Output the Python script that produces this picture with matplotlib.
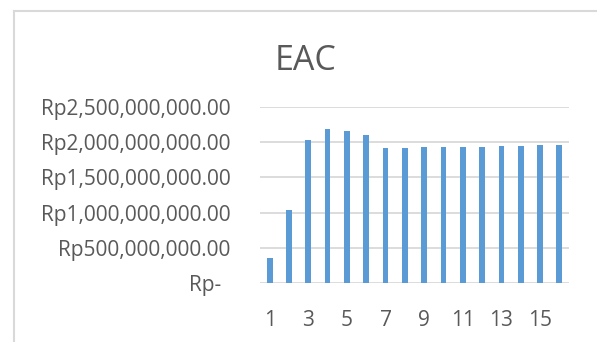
import matplotlib
matplotlib.use('Agg')
import matplotlib.pyplot as plt
from matplotlib.lines import Line2D
from matplotlib.transforms import ScaledTranslation

periods = list(range(1, 17))
eac = [0.357e9, 1.029e9, 2.039e9, 2.190e9, 2.167e9, 2.105e9, 1.914e9, 1.924e9,
       1.938e9, 1.938e9, 1.938e9, 1.938e9, 1.948e9, 1.953e9, 1.962e9, 1.962e9]
y_ticks = [0, 0.5e9, 1.0e9, 1.5e9, 2.0e9, 2.5e9]
y_labels = ['Rp-', 'Rp500,000,000.00', 'Rp1,000,000,000.00', 'Rp1,500,000,000.00',
            'Rp2,000,000,000.00', 'Rp2,500,000,000.00']
x_labels = [str(p) if p % 2 == 1 else '' for p in periods]

text_color = '#595959'
grid_color = '#d9d9d9'
bar_color = '#5b9bd5'

plt.rcParams['font.family'] = ['Open Sans', 'DejaVu Sans']

fig = plt.figure(figsize=(5.97, 3.42), dpi=100)
ax = fig.add_axes([0.4355, 0.1734, 0.5176, 0.5129])

ax.bar(periods, eac, width=0.3, color=bar_color, zorder=3)

ax.set_xlim(0.5, 16.5)
ax.set_ylim(0, 2.5e9)
ax.set_yticks(y_ticks)
ax.set_yticklabels(y_labels)
ax.set_xticks(periods)
ax.set_xticklabels(x_labels)
ax.tick_params(axis='both', length=0, labelsize=15, colors=text_color)
ax.tick_params(axis='y', pad=21)
ax.tick_params(axis='x', pad=20)

# "Rp-" sits a bit further left in the original (accounting format)
rp = ax.get_yticklabels()[0]
rp.set_transform(rp.get_transform() + ScaledTranslation(-10 / 100, 0, fig.dpi_scale_trans))

ax.grid(axis='y', color=grid_color, linewidth=1.3, zorder=0)
for side in ['top', 'right', 'left', 'bottom']:
    ax.spines[side].set_visible(False)

fig.text(306 / 597, 1 - 61 / 342, 'EAC', fontsize=24.5, color=text_color,
         ha='center', va='center')

# chart area frame (only left and top edges are inside the crop)
fig.add_artist(Line2D([13.7 / 597, 13.7 / 597], [0, 1 - 10.7 / 342],
                      transform=fig.transFigure, color=grid_color, linewidth=1.5))
fig.add_artist(Line2D([13.7 / 597, 1], [1 - 10.7 / 342, 1 - 10.7 / 342],
                      transform=fig.transFigure, color=grid_color, linewidth=1.5))

fig.savefig('out.png', dpi=100)
